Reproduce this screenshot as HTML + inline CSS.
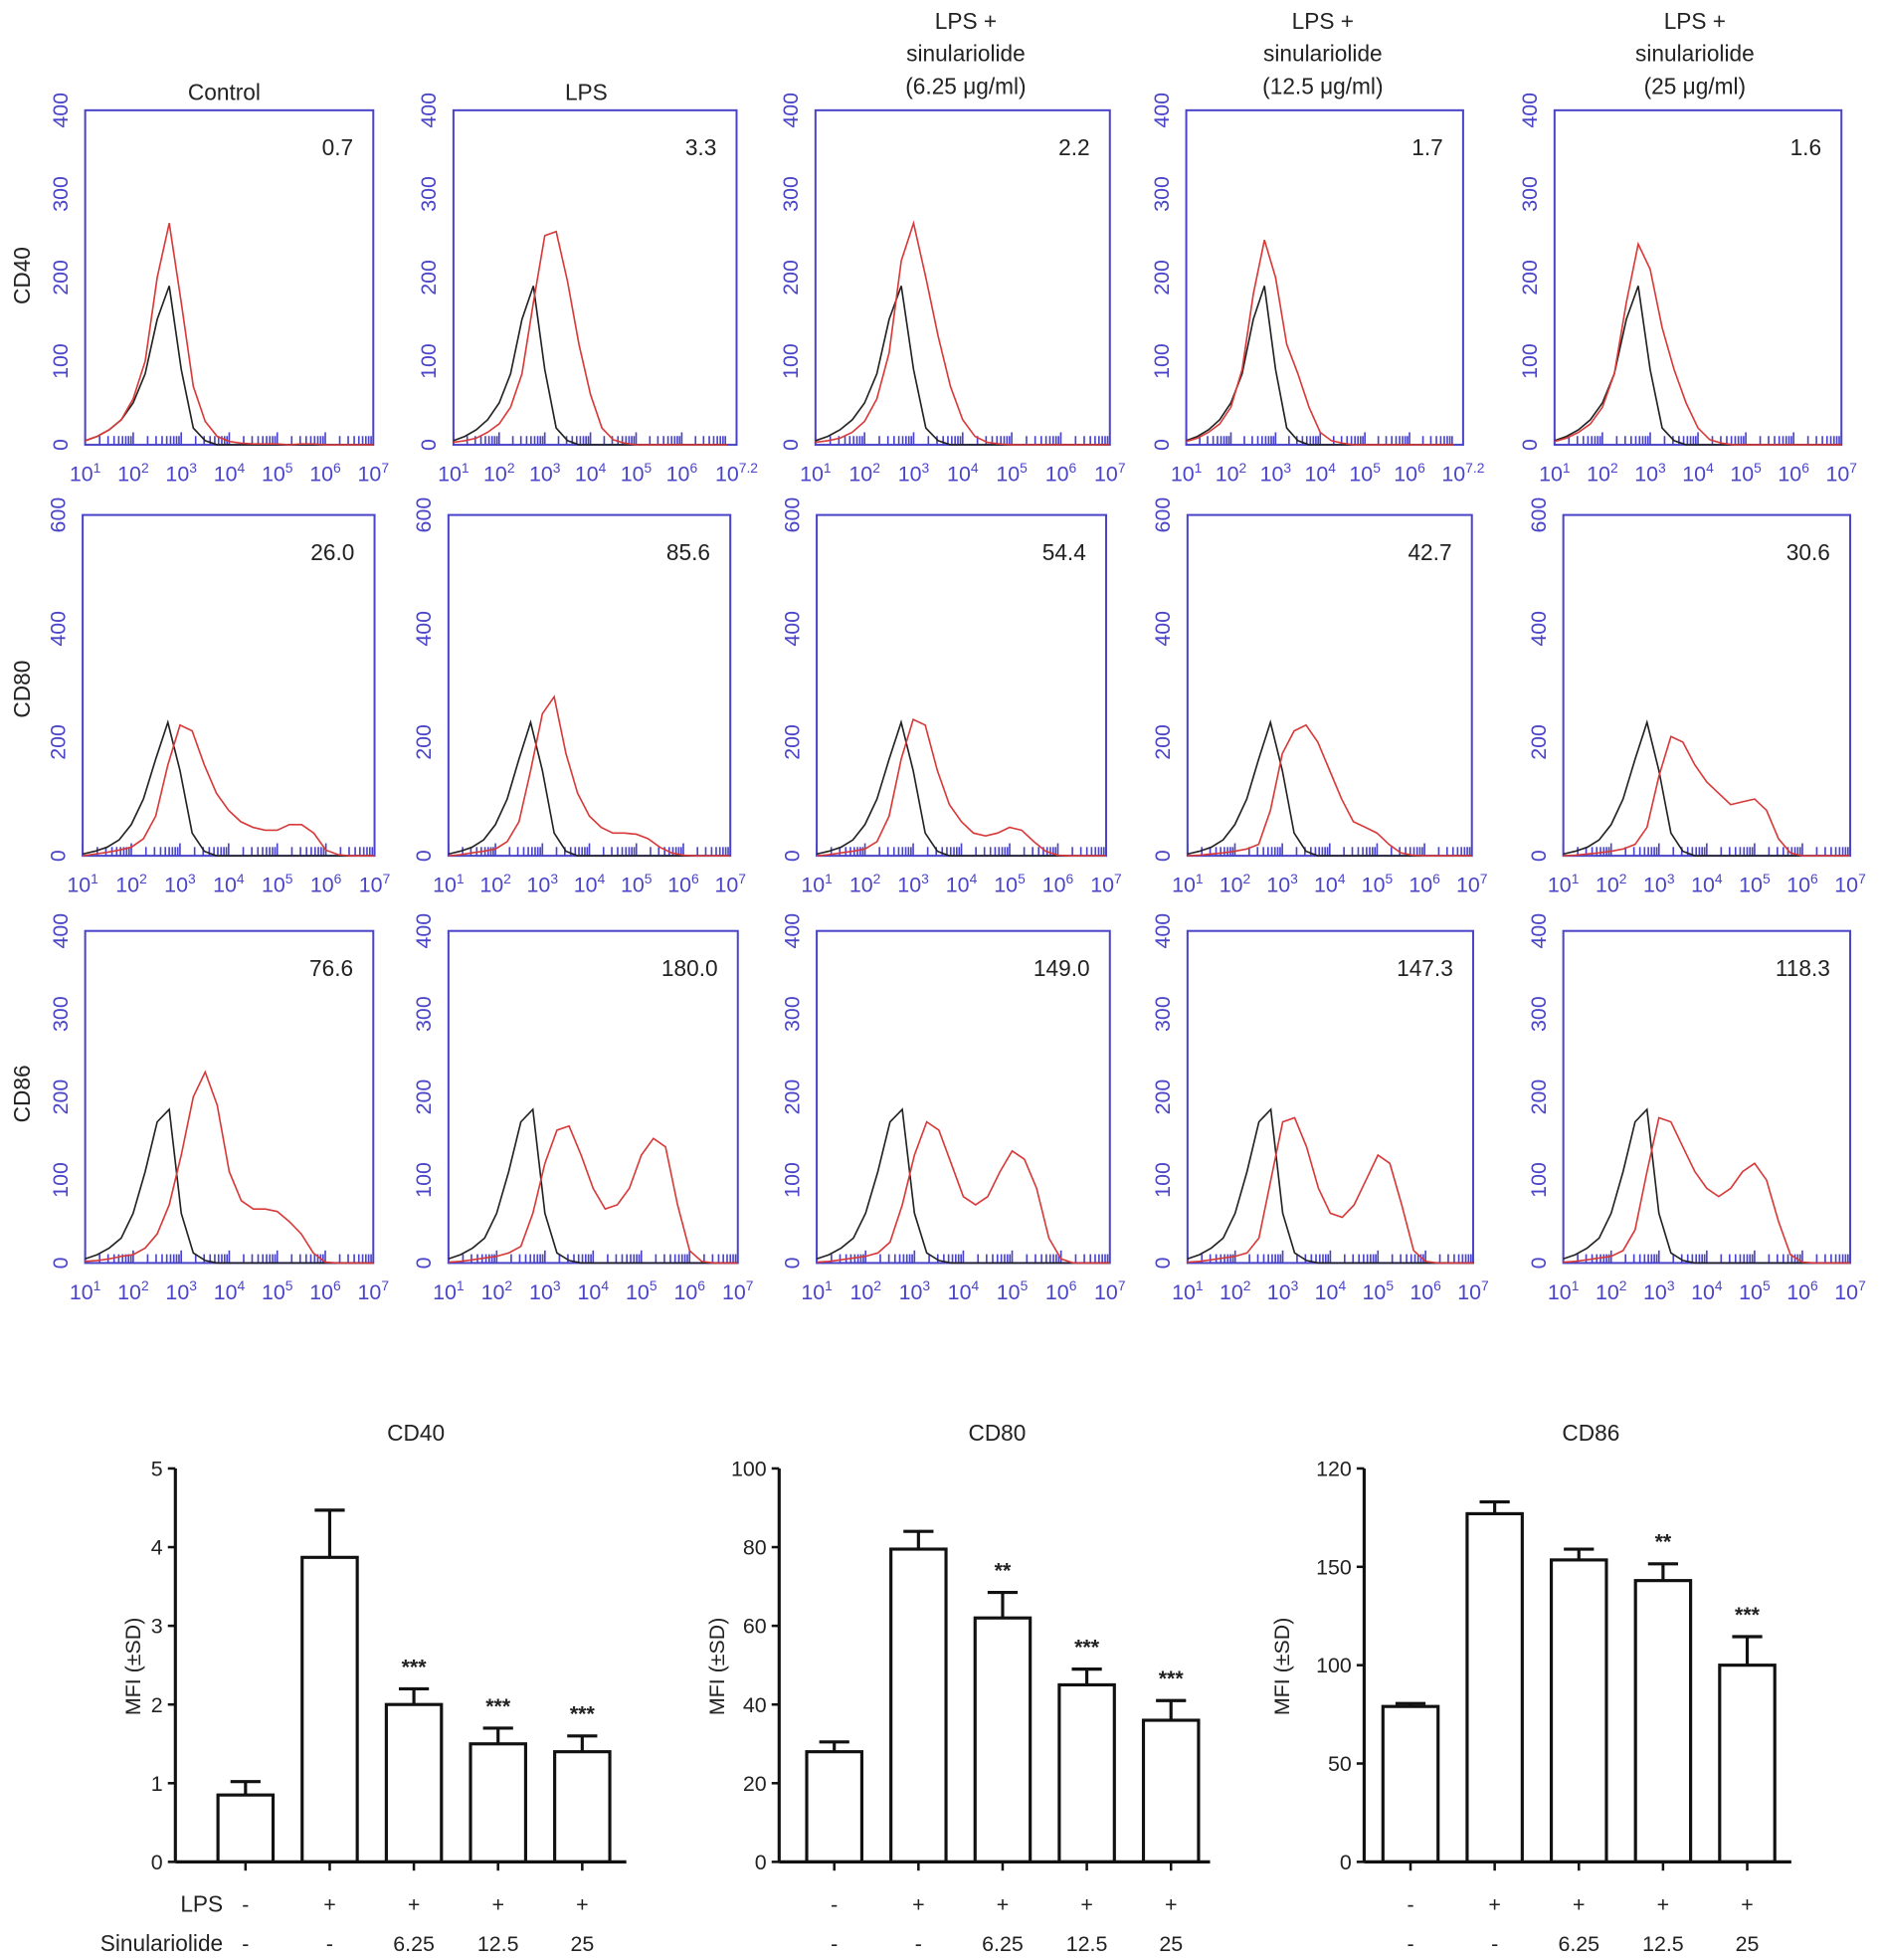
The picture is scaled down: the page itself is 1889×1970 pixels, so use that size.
<!DOCTYPE html>
<html><head><meta charset="utf-8"><style>
html,body{margin:0;padding:0;background:#fff}
svg{display:block}
text{font-family:"Liberation Sans",Arial,sans-serif}
</style></head><body>
<svg id="fig" xmlns="http://www.w3.org/2000/svg" width="1889" height="1970" viewBox="0 0 1500 1564.3">
<g id="hdr" font-size="18" fill="#222" text-anchor="middle">
<text x="179" y="80">Control</text>
<text x="468" y="80">LPS</text>
<text x="771" y="23"><tspan x="771">LPS +</tspan><tspan x="771" dy="26">sinulariolide</tspan><tspan x="771" dy="26">(6.25 μg/ml)</tspan></text>
<text x="1056" y="23"><tspan x="1056">LPS +</tspan><tspan x="1056" dy="26">sinulariolide</tspan><tspan x="1056" dy="26">(12.5 μg/ml)</tspan></text>
<text x="1353" y="23"><tspan x="1353">LPS +</tspan><tspan x="1353" dy="26">sinulariolide</tspan><tspan x="1353" dy="26">(25 μg/ml)</tspan></text>
</g>
<g font-size="18" fill="#222" text-anchor="middle">
<text transform="translate(24,220) rotate(-90)">CD40</text>
<text transform="translate(24,550) rotate(-90)">CD80</text>
<text transform="translate(24,873) rotate(-90)">CD86</text>
</g>
<g id="flow"></g>
<g id="bars"></g>
</svg>
<script>
// ---- flow histogram data (counts sampled at log10 = 1.0, 1.25, ..., 7.0) ----
const logSamples = [1,1.25,1.5,1.75,2,2.25,2.5,2.75,3,3.25,3.5,3.75,4,4.25,4.5,4.75,5,5.25,5.5,5.75,6,6.25,6.5,6.75,7];
const blackCD40 = [5,10,18,30,50,85,150,190,90,20,5,0,0,0,0,0,0,0,0,0,0,0,0,0,0];
const blackCD80 = [3,8,15,28,55,100,170,235,150,40,8,0,0,0,0,0,0,0,0,0,0,0,0,0,0];
const blackCD86 = [5,10,18,30,60,110,170,185,60,12,3,0,0,0,0,0,0,0,0,0,0,0,0,0,0];
const redCD40 = [
 [5,10,18,30,55,100,200,265,170,70,28,10,4,2,1,1,1,0,1,1,0,0,0,0,0],
 [3,5,8,15,25,45,85,170,250,255,195,120,60,20,6,2,0,0,0,0,0,0,0,0,0],
 [3,5,8,15,28,55,110,220,265,200,130,70,30,10,3,1,0,0,0,0,0,0,0,0,0],
 [4,8,15,25,45,90,180,245,200,120,85,45,15,5,2,0,0,0,0,0,0,0,0,0,0],
 [4,8,15,25,45,85,170,240,210,140,90,50,20,6,2,0,0,0,0,0,0,0,0,0,0]];
const redCD80 = [
 [0,3,6,10,15,30,70,160,230,220,160,110,80,60,50,45,45,55,55,40,10,2,0,0,0],
 [0,2,5,8,12,25,60,150,250,280,180,110,70,50,40,40,38,30,15,5,1,0,0,0,0],
 [0,2,5,8,12,25,70,170,240,230,150,90,60,40,35,40,50,45,25,8,1,0,0,0,0],
 [0,1,3,5,8,12,20,80,180,220,230,200,150,100,60,50,40,20,5,1,0,0,0,0,0],
 [0,1,3,5,8,12,20,50,140,210,200,160,130,110,90,95,100,80,30,5,0,0,0,0,0]];
const redCD86 = [
 [2,3,5,8,10,18,35,70,130,200,230,190,110,75,65,65,62,50,35,12,1,0,0,0,0],
 [1,2,4,6,8,12,20,60,120,160,165,130,90,65,70,90,130,150,140,70,15,2,0,0,0],
 [1,2,4,6,8,12,25,70,130,170,160,120,80,70,80,110,135,125,90,30,5,0,0,0,0],
 [1,2,4,6,8,12,30,100,170,175,140,90,60,55,70,100,130,120,70,15,2,0,0,0,0],
 [1,2,4,6,8,15,40,110,175,170,140,110,90,80,90,110,120,100,50,10,1,0,0,0,0]];
const pctCD40 = ["0.7","3.3","2.2","1.7","1.6"];
const pctCD80 = ["26.0","85.6","54.4","42.7","30.6"];
const pctCD86 = ["76.6","180.0","149.0","147.3","118.3"];
const yTicks400 = [0,100,200,300,400];
const yTicks600 = [0,200,400,600];

// ---- bar chart data ----
const groups = ["control","lps","sin-6.25","sin-12.5","sin-25"];
const lpsLabels = ["-","+","+","+","+"];
const sinLabels = ["-","-","6.25","12.5","25"];
const cd40Means = [0.85,3.87,2.0,1.5,1.4];
const cd40Err = [0.17,0.6,0.2,0.2,0.2];
const cd40Stars = ["","","***","***","***"];
const cd40Ticks = [0,1,2,3,4,5];
const cd80Means = [28,79.5,62,45,36];
const cd80Err = [2.5,4.5,6.5,4,5];
const cd80Stars = ["","","**","***","***"];
const cd80Ticks = [0,20,40,60,80,100];
const cd86Means = [79,177,153.5,143,100];
const cd86Err = [1.5,6,5.5,8.5,14.5];
const cd86Stars = ["","","","**","***"];
const cd86Ticks = [0,50,100,150,200];
const cd86TickLabels = ["0","50","100","150","120"];

const NS="http://www.w3.org/2000/svg";
function mk(tag, attrs, parent){const e=document.createElementNS(NS,tag);for(const k in attrs)e.setAttribute(k,attrs[k]);parent.appendChild(e);return e;}
const BLUE="#4a44c8";
const flow=document.getElementById('flow');

const rows=[
 {black:blackCD40,red:redCD40,pct:pctCD40,ymax:400,ticks:yTicks400,name:'cd40',top:88,bot:355,
  boxes:[[68,298],[362,588],[651,886],[947,1168],[1241,1470]],xmax:[7,7.2,7,7.2,7]},
 {black:blackCD80,red:redCD80,pct:pctCD80,ymax:600,ticks:yTicks600,name:'cd80',top:411,bot:683,
  boxes:[[66,299],[358,583],[652,883],[948,1175],[1248,1477]],xmax:[7,7,7,7,7]},
 {black:blackCD86,red:redCD86,pct:pctCD86,ymax:400,ticks:yTicks400,name:'cd86',top:743,bot:1008,
  boxes:[[68,298],[358,589],[652,886],[948,1176],[1248,1477]],xmax:[7,7,7,7,7]}];

rows.forEach((r)=>{
 r.boxes.forEach((b,ci)=>{
  const L=b[0],R=b[1],T=r.top,B=r.bot,xmax=r.xmax[ci];
  const g=mk('g',{},flow);
  
  
  const xs=v=>L+(v-1)/(xmax-1)*(R-L);
  const ys=v=>B-v/r.ymax*(B-T);
  const box=mk('rect',{x:L,y:T,width:R-L,height:B-T,fill:'none',stroke:BLUE,'stroke-width':1.6},g);
  
  
  for(let d=1;d<Math.floor(xmax);d++){for(let k=1;k<10;k++){const lv=d+Math.log10(k);if(lv>xmax)break;
   const t=mk('line',{x1:xs(lv),x2:xs(lv),y1:B,y2:B-(k===1?10:7),stroke:BLUE,'stroke-width':1.3},g);
   
   }}
  const labs=[1,2,3,4,5,6,7];
  labs.forEach(p=>{const pos=(p===7?xmax:p);const tx=mk('text',{x:xs(pos),y:B+29,'font-size':17,fill:BLUE,'text-anchor':'middle'},g);
   tx.textContent='10';const sp=mk('tspan',{dy:-7,'font-size':11},tx);sp.textContent=(p===7&&xmax!==7)?String(xmax):String(p);
   
   });
  r.ticks.forEach(v=>{const ty=mk('text',{transform:`translate(${L-14},${ys(v)}) rotate(-90)`,'font-size':17,fill:BLUE,'text-anchor':'middle'},g);
   ty.textContent=String(v);
   
   });
  const pts=arr=>arr.map((v,i)=>xs(logSamples[i]).toFixed(1)+','+ys(v).toFixed(1)).filter((p,i)=>logSamples[i]<=xmax).join(' ');
  const bl=mk('polyline',{points:pts(r.black),fill:'none',stroke:'#222','stroke-width':1.3},g);
  
  
  const rd=mk('polyline',{points:pts(r.red[ci]),fill:'none',stroke:'#d83a3a','stroke-width':1.3},g);
  
  
  const pt=mk('text',{x:R-16,y:T+36,'font-size':18,fill:'#222','text-anchor':'end'},g);
  pt.textContent=r.pct[ci];
  
  
 });
});

// ---- bar charts ----
const bars=document.getElementById('bars');
const charts=[
 {name:'cd40',title:'CD40',means:cd40Means,err:cd40Err,stars:cd40Stars,ticks:cd40Ticks,labels:cd40Ticks.map(String),ymax:5,ax:140,xend:500,c0:196,tx:332,yto:28,showRowLabels:true},
 {name:'cd80',title:'CD80',means:cd80Means,err:cd80Err,stars:cd80Stars,ticks:cd80Ticks,labels:cd80Ticks.map(String),ymax:100,ax:622,xend:966,c0:666,tx:796,yto:44,showRowLabels:false},
 {name:'cd86',title:'CD86',means:cd86Means,err:cd86Err,stars:cd86Stars,ticks:cd86Ticks,labels:cd86TickLabels,ymax:200,ax:1089,xend:1430,c0:1126,tx:1270,yto:60,showRowLabels:false}];
const Y0=1486,YT=1172,SP=67.2,BW=44;
charts.forEach(c=>{
 const g=mk('g',{},bars);
 
 
 const ys=v=>Y0-v/c.ymax*(Y0-YT);
 const xc=i=>c.c0+i*SP;
 const t=mk('text',{x:c.tx,y:1150,'font-size':18,fill:'#222','text-anchor':'middle'},g);
 t.textContent=c.title;
 
 
 const ya=mk('line',{x1:c.ax,x2:c.ax,y1:YT,y2:Y0,stroke:'#111','stroke-width':2.5},g);
 
 
 c.ticks.forEach((v,i)=>{mk('line',{x1:c.ax-6,x2:c.ax,y1:ys(v),y2:ys(v),stroke:'#111','stroke-width':2},g);
  const tl=mk('text',{x:c.ax-10,y:ys(v)+6,'font-size':17,fill:'#222','text-anchor':'end'},g);
  tl.textContent=c.labels[i];
  
  });
 const yt=mk('text',{transform:`translate(${c.ax-c.yto},1330) rotate(-90)`,'font-size':17,fill:'#222','text-anchor':'middle'},g);
 yt.textContent='MFI (±SD)';
 
 
 c.means.forEach((m,i)=>{
  const x=xc(i);
  const eb=mk('path',{d:`M${x},${ys(m)} V${ys(m+c.err[i])} M${x-12},${ys(m+c.err[i])} H${x+12}`,stroke:'#111','stroke-width':2.5,fill:'none'},g);
  
  
  const r=mk('rect',{x:x-BW/2,y:ys(m),width:BW,height:Y0-ys(m),fill:'#fff',stroke:'#111','stroke-width':2.5},g);
  
  
  if(c.stars[i]){const s=mk('text',{x:x,y:ys(m+c.err[i])-12,'font-size':17,'font-weight':'bold',fill:'#222','text-anchor':'middle'},g);
   s.textContent=c.stars[i];
   
   }
  mk('line',{x1:x,x2:x,y1:Y0,y2:Y0+7,stroke:'#111','stroke-width':2},g);
  const l1=mk('text',{x:x,y:1526,'font-size':17,fill:'#222','text-anchor':'middle'},g);
  l1.textContent=lpsLabels[i];
  
  
  const l2=mk('text',{x:x,y:1557,'font-size':17,fill:'#222','text-anchor':'middle'},g);
  l2.textContent=sinLabels[i];
  
  
 });
 const xa=mk('line',{x1:c.ax,x2:c.xend,y1:Y0,y2:Y0,stroke:'#111','stroke-width':2.5},g);
 
 
 if(c.showRowLabels){
  const a=mk('text',{x:178,y:1526,'font-size':18,fill:'#222','text-anchor':'end'},g);
  a.textContent='LPS';
  
  
  const b=mk('text',{x:178,y:1557,'font-size':18,fill:'#222','text-anchor':'end'},g);
  b.textContent='Sinulariolide';
  
  
 }
});
</script>
</body></html>
